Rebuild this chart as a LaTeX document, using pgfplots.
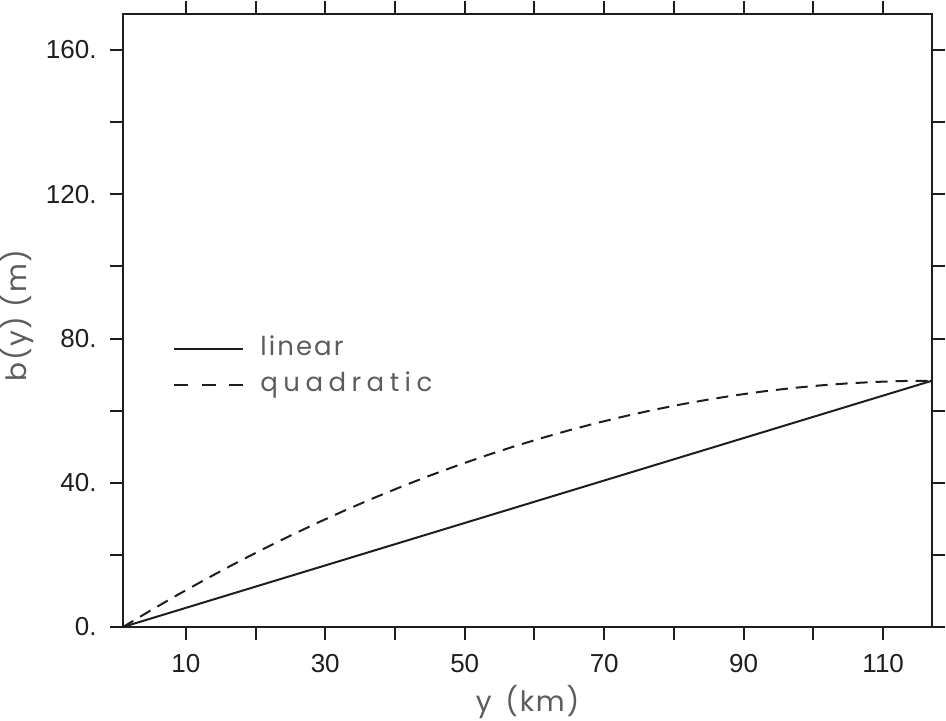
\documentclass[border=0pt]{standalone}
\usepackage{fontspec}
\setmainfont{Liberation Sans}
\newfontfamily\labfont[LetterSpace=6]{Poppins}
\newfontfamily\legfont[LetterSpace=8]{Poppins}
\newfontfamily\legfontw[LetterSpace=21]{Poppins}
\usepackage{pgfplots}
\pgfplotsset{compat=1.18}
\definecolor{ink}{HTML}{1E1E1E}
\definecolor{labgray}{HTML}{5C5C5C}
\begin{document}
\begin{tikzpicture}
\begin{axis}[
  scale only axis, width=404.5pt, height=306.5pt,
  xmin=1, xmax=117, ymin=0, ymax=170,
  axis line style={line width=1pt, color=ink},
  tick style={line width=1pt, color=ink},
  tick align=outside, major tick length=6.5pt, minor tick length=6.5pt,
  xtick={10,30,50,70,90,110}, minor xtick={20,40,60,80,100},
  ytick={0,40,80,120,160}, minor ytick={20,60,100,140},
  xticklabels={10,30,50,70,90,110},
  yticklabels={0.,40.,80.,120.,160.},
  /pgf/number format/assume math mode=true,
  ticklabel style={font=\fontsize{13}{13}\selectfont, text=ink},
  xticklabel style={anchor=north, inner sep=0pt, yshift=-7pt},
  yticklabel style={anchor=east, inner sep=0pt, xshift=-6.5pt},
  xlabel={y\hspace{7pt}(km)}, ylabel={b(y) (m)},
  label style={font=\labfont\fontsize{14}{14}\selectfont, text=labgray},
  xlabel style={at={(axis description cs:0.5,-0.122)}, anchor=center},
  ylabel style={at={(axis description cs:-0.131,0.508)}, anchor=center},
  legend style={draw=none, fill=none, at={(axis description cs:0.0618,0.4209)}, anchor=west,
    inner sep=0pt, column sep=8pt, row sep=9pt,
    nodes={inner sep=0pt, text height=7pt, text depth=2pt, anchor=base west},
    font=\fontsize{13}{13}\selectfont, text=labgray},
  legend image code/.code={\draw[#1] (0pt,3.5pt) -- (34.5pt,3.5pt);},
  legend cell align=left,
]
\addplot[ink, line width=1pt] coordinates {(1,0) (117,68.3)};
\addlegendentry{\legfont linear}
\addplot[ink, line width=1pt, dash pattern=on 6pt off 4pt,
  legend image post style={dash pattern=on 7pt off 6.75pt}] coordinates {
(1,0) (5,4.63) (9,9.10) (13,13.40) (17,17.54) (21,21.52) (25,25.34) (29,28.99)
(33,32.49) (37,35.81) (41,38.98) (45,41.99) (49,44.83) (53,47.51) (57,50.03)
(61,52.38) (65,54.57) (69,56.61) (73,58.47) (77,60.18) (81,61.72) (85,63.10)
(89,64.32) (93,65.38) (97,66.27) (101,67.00) (105,67.57) (109,67.97) (113,68.22) (117,68.3)};
\addlegendentry{\legfontw quadratic}
\end{axis}
\pgfresetboundingbox
\path (-61.5pt,-47pt) rectangle (411.5pt,313.5pt);
\end{tikzpicture}
\end{document}
